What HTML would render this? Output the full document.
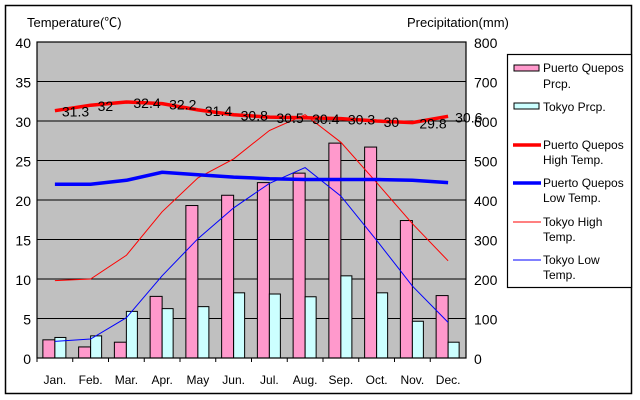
<!DOCTYPE html>
<html><head><meta charset="utf-8"><style>
html,body{margin:0;padding:0;background:#fff;}
svg{display:block;font-family:"Liberation Sans","Noto Sans CJK JP",sans-serif;}
</style></head><body>
<svg id="s" width="640" height="400" viewBox="0 0 640 400" xmlns="http://www.w3.org/2000/svg">
<rect x="5.5" y="5.5" width="626" height="388" fill="#fff" stroke="#000" stroke-width="1.5"/>
<rect x="37" y="42" width="429" height="316" fill="#c0c0c0"/>
<g id="g"></g>
</svg>
<script>
var g=document.getElementById('g'),h='';
var X0=37,X1=466,Y0=42,Y1=358,W=(X1-X0)/12;
function ty(t){return Y1-t*(Y1-Y0)/40;}
function py(p){return Y1-p*(Y1-Y0)/800;}
for(var i=0;i<=8;i++){var y=Y0+i*(Y1-Y0)/8;
 if(i>0&&i<8)h+='<line x1="'+X0+'" x2="'+X1+'" y1="'+y+'" y2="'+y+'" stroke="#000" stroke-width="1"/>';
 h+='<text x="31" y="'+(y+6)+'" font-size="14" text-anchor="end">'+(40-i*5)+'</text>';
 h+='<text x="474" y="'+(y+6)+'" font-size="14">'+(800-i*100)+'</text>';}
var pq=[46,28,40,156,386,412,444,468,544,534,348,158],tk=[52,56,118,125,130,165,162,155,208,165,93,40];
var mon=['Jan.','Feb.','Mar.','Apr.','May','Jun.','Jul.','Aug.','Sep.','Oct.','Nov.','Dec.'];
for(i=0;i<12;i++){var c=X0+W*(i+0.5);
 h+='<rect x="'+(c-12)+'" y="'+py(pq[i])+'" width="12" height="'+(Y1-py(pq[i]))+'" fill="#ff99cc" stroke="#000" stroke-width="1"/>';
 h+='<rect x="'+c+'" y="'+py(tk[i])+'" width="11" height="'+(Y1-py(tk[i]))+'" fill="#ccffff" stroke="#000" stroke-width="1"/>';
 h+='<line x1="'+(X0+W*i)+'" x2="'+(X0+W*i)+'" y1="'+Y1+'" y2="'+(Y1+4)+'" stroke="#000"/>';
 h+='<text x="'+c+'" y="384" font-size="12" text-anchor="middle">'+mon[i]+'</text>';}
h+='<rect x="37" y="42" width="429" height="316" fill="none" stroke="#000" stroke-width="1.2"/>';
function line(v,col,w){var p=v.map(function(t,i){return (X0+W*(i+0.5)).toFixed(1)+','+ty(t).toFixed(1)}).join(' ');
 h+='<polyline points="'+p+'" fill="none" stroke="'+col+'" stroke-width="'+w+'"/>';}
var ph=[31.3,32,32.4,32.2,31.4,30.8,30.5,30.4,30.3,30,29.8,30.6];
line([9.8,10,13,18.5,22.8,25.2,28.8,30.8,27.3,22.2,17.0,12.3],'#ff0000',1);
line([2.1,2.4,5.1,10.4,15.1,19.0,22.1,24.1,20.5,14.9,9.1,4.5],'#0000ff',1);
line([22,22,22.5,23.5,23.2,22.9,22.7,22.6,22.6,22.6,22.5,22.2],'#0000ff',3.5);
line(ph,'#ff0000',3.5);
for(i=0;i<12;i++)h+='<text x="'+(X0+W*(i+0.5)+7)+'" y="'+(ty(ph[i])+6)+'" font-size="14">'+ph[i]+'</text>';
h+='<text x="27" y="27" font-size="13">Temperature(℃)</text><text x="407" y="27" font-size="13">Precipitation(mm)</text>';
h+='<rect x="507.5" y="54.5" width="124" height="233" fill="#fff" stroke="#000" stroke-width="1.2"/>';
h+='<rect x="514" y="65" width="25" height="6" fill="#ff99cc" stroke="#000"/>';
h+='<text x="543" y="72" font-size="12">Puerto Quepos</text><text x="543" y="88" font-size="12">Prcp.</text>';
h+='<rect x="514" y="103" width="25" height="6" fill="#ccffff" stroke="#000"/><text x="543" y="111" font-size="12">Tokyo Prcp.</text>';
var L=[['Puerto Quepos','High Temp.','#ff0000',3.5,145],['Puerto Quepos','Low Temp.','#0000ff',3.5,183],['Tokyo High','Temp.','#ff0000',1,222],['Tokyo Low','Temp.','#0000ff',1,260]];
L.forEach(function(l){h+='<line x1="513" x2="541" y1="'+l[4]+'" y2="'+l[4]+'" stroke="'+l[2]+'" stroke-width="'+l[3]+'"/>';
 h+='<text x="543" y="'+(l[4]+4)+'" font-size="12">'+l[0]+'</text><text x="543" y="'+(l[4]+19)+'" font-size="12">'+l[1]+'</text>';});
g.innerHTML=h;
</script>
</body></html>
